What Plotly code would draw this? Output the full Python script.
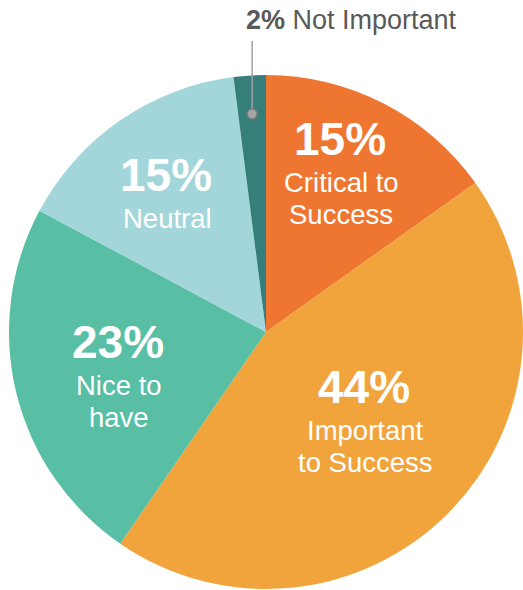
import math
import plotly.graph_objects as go

# Survey responses, clockwise from 12 o'clock
categories = ["Critical to Success", "Important to Success", "Nice to have",
              "Neutral", "Not Important"]
values = [15, 44, 23, 15, 2]
label_lines = [["Critical to", "Success"], ["Important", "to Success"],
               ["Nice to", "have"], ["Neutral"], ["Not Important"]]
colors = ["#EF7630", "#F1A43C", "#58BEA4", "#A3D6DA", "#367E79"]

W, H = 523, 590
FONT = "Liberation Sans, Arial, sans-serif"

# pie placement in pixels (left edge, top edge, radius)
PIE_LEFT, PIE_R = 9, 257
PIE_CY = 332
cx = PIE_LEFT + PIE_R
cy = PIE_CY


def px(x):
    return x / W


def py(y):
    return 1 - y / H


fig = go.Figure(go.Pie(
    labels=categories,
    values=values,
    marker=dict(colors=colors, line=dict(width=0)),
    sort=False,
    direction="clockwise",
    rotation=0,
    textinfo="none",
    hoverinfo="label+percent",
    showlegend=False,
    domain=dict(x=[PIE_LEFT / W, 1],
                y=[py(PIE_CY + PIE_R + 1), py(PIE_CY - PIE_R - 1)]),
))

# label anchors: centre x and baseline y of the percentage line
pct_anchor = [(340, 155), (364, 403), (118, 358), (166, 191)]
PCT_SIZE, TXT_SIZE = 46, 27.5
GAP, STEP = 37, 32.5


def mid(baseline, size):
    return baseline - 0.35 * size


annotations = []
for i, (ax, ay) in enumerate(pct_anchor):
    annotations.append(dict(
        x=px(ax), y=py(mid(ay, PCT_SIZE)), xref="paper", yref="paper",
        text=f"<b>{values[i]}%</b>", showarrow=False,
        xanchor="center", yanchor="middle",
        font=dict(family=FONT, size=PCT_SIZE, color="white")))
    for j, line in enumerate(label_lines[i]):
        b = ay + GAP + j * STEP
        annotations.append(dict(
            x=px(ax + 1), y=py(mid(b, TXT_SIZE)), xref="paper", yref="paper",
            text=line, showarrow=False, xanchor="center", yanchor="middle",
            font=dict(family=FONT, size=TXT_SIZE, color="white")))

# small slice is labelled outside, above the pie, with a leader line
annotations.append(dict(
    x=px(351.5), y=py(mid(29, 27)), xref="paper", yref="paper",
    text=f"<b>{values[4]}%</b> {label_lines[4][0]}", showarrow=False,
    xanchor="center", yanchor="middle",
    font=dict(family=FONT, size=27, color="#595959")))

total = sum(values)
start = sum(values[:4]) / total * 360
theta = math.radians(start + values[4] / total * 180)
dot_x = cx + 0.85 * PIE_R * math.sin(theta)
dot_y = cy - 0.85 * PIE_R * math.cos(theta)
dot_r = 5

shapes = [
    dict(type="line", xref="paper", yref="paper",
         x0=px(dot_x), x1=px(dot_x), y0=py(41), y1=py(dot_y),
         line=dict(color="#A0A0A0", width=1.5)),
    dict(type="circle", xref="paper", yref="paper",
         x0=px(dot_x - dot_r), x1=px(dot_x + dot_r),
         y0=py(dot_y + dot_r), y1=py(dot_y - dot_r),
         fillcolor="#A6A6A6", line=dict(color="#7A7A7A", width=1.5)),
]

fig.update_layout(
    width=W, height=H,
    margin=dict(l=0, r=0, t=0, b=0),
    paper_bgcolor="white", plot_bgcolor="white",
    annotations=annotations,
    shapes=shapes,
)

fig.write_html("out.html")
